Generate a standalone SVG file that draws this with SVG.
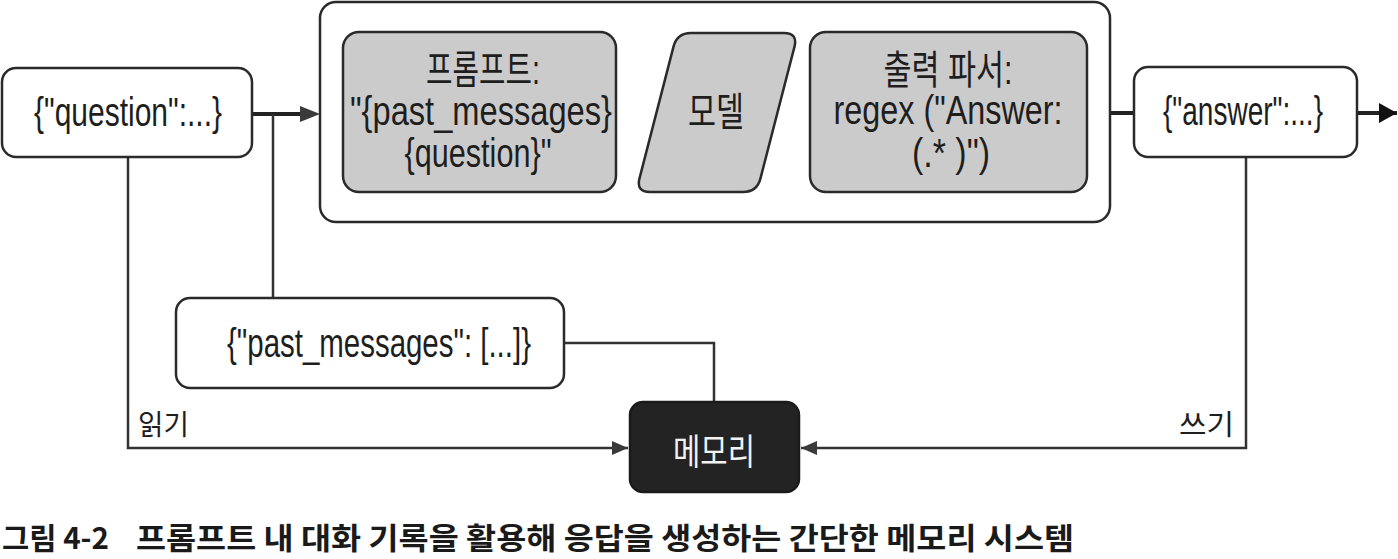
<svg xmlns="http://www.w3.org/2000/svg" width="1398" height="559" viewBox="0 0 1398 559">
  <style>
    .box { fill: #ffffff; stroke: #2a2a2a; stroke-width: 2.5; }
    .gray { fill: #cbcbcb; stroke: #2a2a2a; stroke-width: 2.5; }
    .dark { fill: #232323; stroke: #1a1a1a; stroke-width: 2.5; }
    .t { font-family: "Liberation Sans", "Noto Sans CJK KR", sans-serif; font-size: 40px; fill: #1e1e1e; text-anchor: middle; }
    .k { font-family: "Noto Sans CJK KR", sans-serif; fill: #1e1e1e; }
    .line { fill: none; stroke: #333333; stroke-width: 2.5; }
    .thick { fill: none; stroke: #222222; stroke-width: 4; }
    .cap { font-family: "Noto Sans CJK KR", sans-serif; font-weight: bold; font-size: 30px; fill: #1a1a1a; }
  </style>
  <defs>
    <marker id="arr" viewBox="0 0 16 14" refX="16" refY="7" markerWidth="16" markerHeight="14" markerUnits="userSpaceOnUse" orient="auto">
      <path d="M0,0 L16,7 L0,14 Z" fill="#3a3a3a"/>
    </marker>
    <marker id="arrBig" viewBox="0 0 18 20" refX="18" refY="10" markerWidth="18" markerHeight="20" markerUnits="userSpaceOnUse" orient="auto">
      <path d="M0,0 L18,10 L0,20 Z" fill="#111111"/>
    </marker>
  </defs>

  <g id="connectors">
    <path class="thick" d="M252,114 L300,114"/>
    <path d="M300,106 L320,114 L300,122 Z" fill="#3a3a3a"/>
    <path class="line" d="M273,114 L273,298"/>
    <path class="line" d="M128,157 L128,448 L628,448" marker-end="url(#arr)"/>
    <path class="line" d="M564,343 L714,343 L714,402"/>
    <path class="line" d="M1246,157 L1246,448 L801,448" marker-end="url(#arr)"/>
    <path class="thick" d="M1110,113 L1134,113"/>
    <path class="thick" d="M1357,113 L1397,113" marker-end="url(#arrBig)"/>
  </g>

  <g id="question">
    <rect class="box" x="2" y="68" width="250" height="89" rx="14"/>
    <text class="t" x="128" y="126" textLength="188" lengthAdjust="spacingAndGlyphs">{"question":...}</text>
  </g>

  <g id="chain">
    <rect class="box" x="320" y="2" width="790" height="220" rx="16"/>
  </g>

  <g id="prompt">
    <rect class="gray" x="343" y="32" width="273" height="160" rx="16"/>
    <text class="t" x="483" y="84" textLength="114" lengthAdjust="spacingAndGlyphs">프롬프트:</text>
    <text class="t" x="481" y="125" textLength="262" lengthAdjust="spacingAndGlyphs">"{past_messages}</text>
    <text class="t" x="478" y="167" textLength="147" lengthAdjust="spacingAndGlyphs">{question}"</text>
  </g>

  <g id="model">
    <path class="gray" d="M691,33 L784,33 Q798,33 794.5,46.6 L760.5,178.4 Q757,192 743,192 L650,192 Q636,192 639.5,178.4 L673.5,46.6 Q677,33 691,33 Z"/>
    <text class="t" x="716" y="126" textLength="56" lengthAdjust="spacingAndGlyphs">모델</text>
  </g>

  <g id="parser">
    <rect class="gray" x="810" y="32" width="277" height="160" rx="16"/>
    <text class="t" x="948" y="84" textLength="129" lengthAdjust="spacingAndGlyphs">출력 파서:</text>
    <text class="t" x="948" y="124" textLength="229" lengthAdjust="spacingAndGlyphs">regex ("Answer:</text>
    <text class="t" x="951" y="167" textLength="78" lengthAdjust="spacingAndGlyphs">(.* )")</text>
  </g>

  <g id="answer">
    <rect class="box" x="1134" y="67" width="223" height="90" rx="14"/>
    <text class="t" x="1243" y="125" textLength="160" lengthAdjust="spacingAndGlyphs">{"answer":...}</text>
  </g>

  <g id="past_messages">
    <rect class="box" x="176" y="298" width="388" height="90" rx="14"/>
    <text class="t" x="379" y="357" textLength="304" lengthAdjust="spacingAndGlyphs">{"past_messages": [...]}</text>
  </g>

  <g id="memory">
    <rect class="dark" x="630" y="402" width="169" height="90" rx="13"/>
    <text class="k" x="714" y="465" font-size="36" style="fill:#f2f2f2" text-anchor="middle" textLength="82" lengthAdjust="spacingAndGlyphs">메모리</text>
  </g>

  <g id="labels">
    <text class="k" x="138" y="435" font-size="28" textLength="51" lengthAdjust="spacingAndGlyphs">읽기</text>
    <text class="k" x="1179" y="435" font-size="28" textLength="55" lengthAdjust="spacingAndGlyphs">쓰기</text>
  </g>

  <g id="caption">
    <text class="cap" x="2" y="549" textLength="107" lengthAdjust="spacingAndGlyphs">그림 4-2</text>
    <text class="cap" x="136" y="549" textLength="938" lengthAdjust="spacingAndGlyphs">프롬프트 내 대화 기록을 활용해 응답을 생성하는 간단한 메모리 시스템</text>
  </g>
</svg>
